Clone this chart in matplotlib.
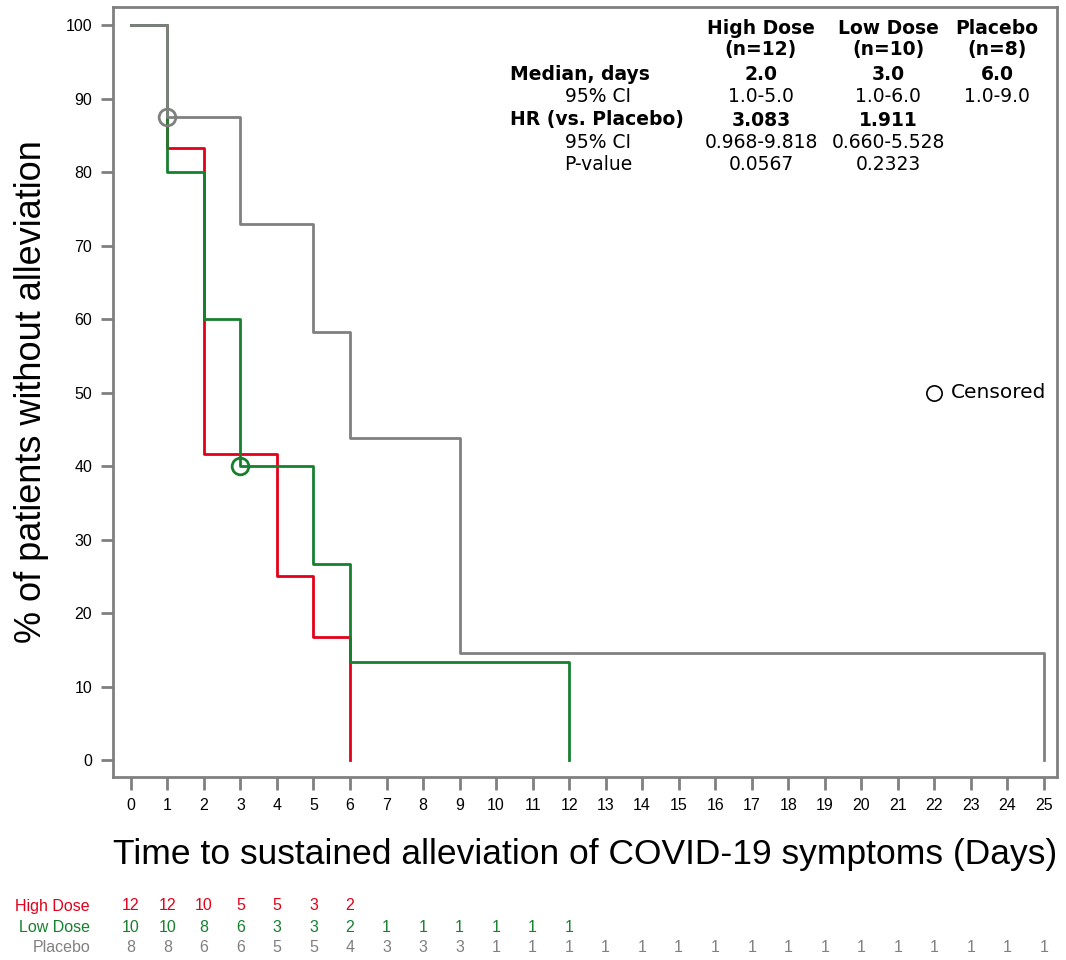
import matplotlib
matplotlib.use("Agg")
import matplotlib.pyplot as plt
import matplotlib.transforms as mtransforms

# ---- data ----
hd_t = [0, 1, 2, 4, 5, 6]
hd_s = [100, 83.3, 41.7, 25.0, 16.7, 0]
ld_t = [0, 1, 2, 3, 5, 6, 12]
ld_s = [100, 80.0, 60.0, 40.0, 26.7, 13.3, 0]
pl_t = [0, 1, 3, 5, 6, 9, 25]
pl_s = [100, 87.5, 72.9, 58.3, 43.75, 14.6, 0]
cens_pl = ([1], [87.5])
cens_ld = ([3], [40.0])

risk_hd = [12, 12, 10, 5, 5, 3, 2]
risk_ld = [10, 10, 8, 6, 3, 3, 2, 1, 1, 1, 1, 1, 1]
risk_pl = [8, 8, 6, 6, 5, 5, 4, 3, 3, 3] + [1] * 16

stat_names = ["High Dose", "Low Dose", "Placebo"]
stat_n = ["(n=12)", "(n=10)", "(n=8)"]
median = ["2.0", "3.0", "6.0"]
median_ci = ["1.0-5.0", "1.0-6.0", "1.0-9.0"]
hr = ["3.083", "1.911", ""]
hr_ci = ["0.968-9.818", "0.660-5.528", ""]
pval = ["0.0567", "0.2323", ""]

RED = "#E2001A"
GREEN = "#17802F"
GRAY = "#808080"
ARIAL = ["Liberation Sans", "DejaVu Sans"]

W, H = 1066, 960
fig = plt.figure(figsize=(W / 100, H / 100), dpi=100)
ax = fig.add_axes([113 / W, 1 - 777 / H, (1057 - 113) / W, (777 - 7) / H])

ax.step(hd_t, hd_s, where="post", color=RED, lw=2.0, zorder=3)
ax.step(ld_t, ld_s, where="post", color=GREEN, lw=2.0, zorder=4)
ax.step(pl_t, pl_s, where="post", color=GRAY, lw=2.0, zorder=5)
ax.plot(*cens_pl, "o", mfc="none", mec=GRAY, ms=12, mew=2, zorder=6)
ax.plot(*cens_ld, "o", mfc="none", mec=GREEN, ms=12, mew=2, zorder=6)

ax.set_xlim(-0.49, 25.36)
ax.set_ylim(-2.3, 102.45)
ax.set_xticks(range(0, 26))
ax.set_yticks(range(0, 101, 10))
for sp in ax.spines.values():
    sp.set_color(GRAY)
    sp.set_linewidth(2)
ax.tick_params(axis="both", colors=GRAY, width=2, length=9, labelcolor="black",
               labelsize=11.5)
for lab in ax.get_xticklabels() + ax.get_yticklabels():
    lab.set_family(ARIAL)
ax.tick_params(axis="x", pad=6)
ax.tick_params(axis="y", pad=6)

ax.set_ylabel("% of patients without alleviation", fontsize=26,
              family=ARIAL, labelpad=12)
ax.set_xlabel("Time to sustained alleviation of COVID-19 symptoms (Days)", fontsize=25.5,
              family=ARIAL, labelpad=18)

# censored legend
ax.plot([22], [50], "o", mfc="none", mec="black", ms=11, mew=1.2, clip_on=False)
ax.text(22.45, 50, "Censored", va="center", ha="left", fontsize=14.5)

# stats table
tfs = 13.5
col_x = [761, 888, 997]
def px(x, y):
    return x / W, 1 - y / H
for cx, name, n in zip(col_x, stat_names, stat_n):
    fig.text(*px(cx, 28), name, ha="center", va="center", fontsize=tfs, fontweight="bold")
    fig.text(*px(cx, 50), n, ha="center", va="center", fontsize=tfs, fontweight="bold")
rows = [(74, "Median, days", median, True, "left"),
        (97, "95% CI", median_ci, False, "center"),
        (120, "HR (vs. Placebo)", hr, True, "left"),
        (143, "95% CI", hr_ci, False, "center"),
        (165, "P-value", pval, False, "center")]
for y, lab, vals, bold, ha in rows:
    lx = 510 if ha == "left" else 598
    fig.text(*px(lx, y), lab, ha=ha, va="center", fontsize=tfs,
             fontweight="bold" if bold else "normal")
    for cx, v in zip(col_x, vals):
        if v:
            fig.text(*px(cx, y), v, ha="center", va="center", fontsize=tfs,
                     fontweight="bold" if bold else "normal")

# risk table
trans = mtransforms.blended_transform_factory(ax.transData, fig.transFigure)
for y, name, vals, col in [(906, "High Dose", risk_hd, RED),
                           (927, "Low Dose", risk_ld, GREEN),
                           (948, "Placebo", risk_pl, GRAY)]:
    fig.text(90 / W, 1 - y / H, name, ha="right", va="center", fontsize=11.5,
             color=col, family=ARIAL)
    for i, v in enumerate(vals):
        ax.text(i, 1 - y / H, str(v), transform=trans, ha="center", va="center",
                fontsize=11.5, color=col, family=ARIAL)

fig.savefig("out.png", dpi=100)
